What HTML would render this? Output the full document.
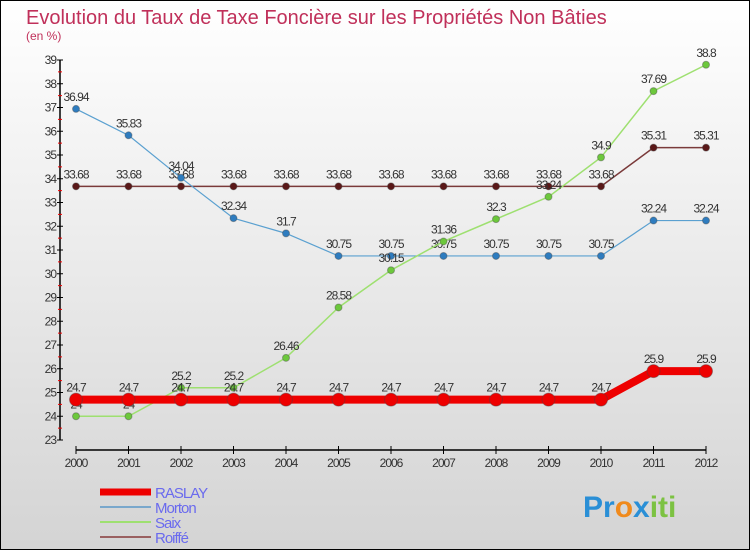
<!DOCTYPE html>
<html><head><meta charset="utf-8"><style>
body{margin:0;width:750px;height:550px;overflow:hidden;font-family:"Liberation Sans",sans-serif}
#wrap{position:absolute;left:0;top:0;width:748px;height:548px;border:1px solid #000;background:linear-gradient(#fff,#d4d4d4)}
</style></head><body>
<div id="wrap">
<svg width="750" height="550" style="position:absolute;left:-1px;top:-1px" id="svg">
<text x="26" y="24" font-size="20" fill="#c0305a">Evolution du Taux de Taxe Foncière sur les Propriétés Non Bâties</text>
<text x="26" y="40" font-size="12" fill="#c0305a">(en %)</text>
<g id="axes"></g><g id="series"></g><g id="legend"></g>
<text x="583" y="517" font-size="30" font-weight="bold"><tspan fill="#2a8fd6">Pr</tspan><tspan fill="#f08a1c">o</tspan><tspan fill="#2a8fd6">x</tspan><tspan fill="#7cc242">iti</tspan></text>
</svg></div>
<script>
const years=[2000,2001,2002,2003,2004,2005,2006,2007,2008,2009,2010,2011,2012];
const yTicks=[23,24,25,26,27,28,29,30,31,32,33,34,35,36,37,38,39];
const raslay=[24.7,24.7,24.7,24.7,24.7,24.7,24.7,24.7,24.7,24.7,24.7,25.9,25.9];
const morton=[36.94,35.83,34.04,32.34,31.7,30.75,30.75,30.75,30.75,30.75,30.75,32.24,32.24];
const saix=[24,24,25.2,25.2,26.46,28.58,30.15,31.36,32.3,33.24,34.9,37.69,38.8];
const roiffe=[33.68,33.68,33.68,33.68,33.68,33.68,33.68,33.68,33.68,33.68,33.68,35.31,35.31];
const seriesNames=['RASLAY','Morton','Saix','Roiffé'];
const NS='http://www.w3.org/2000/svg';
const X=i=>76+i*52.5, Y=v=>440-(v-23)*23.75;
function mk(t,a,p){const e=document.createElementNS(NS,t);for(const k in a)e.setAttribute(k,a[k]);p.appendChild(e);return e;}
const ax=document.getElementById('axes');
let l=mk('line',{x1:60,y1:60,x2:60,y2:440,stroke:'#000','stroke-width':1.5},ax);


l=mk('line',{x1:76,y1:450,x2:706,y2:450,stroke:'#000','stroke-width':1.5},ax);


yTicks.forEach(v=>{
 mk('line',{x1:57,x2:63,y1:Y(v),y2:Y(v),stroke:'#000'},ax);
 if(v<39)mk('line',{x1:58,x2:62,y1:Y(v+0.5),y2:Y(v+0.5),stroke:'#e00'},ax);
 const t=mk('text',{x:56,y:Y(v)+4,'font-size':12,'text-anchor':'end',fill:'#333','letter-spacing':'-1'},ax);
 t.textContent=v;
 
 
});
years.forEach((y,i)=>{
 mk('line',{x1:X(i),x2:X(i),y1:446,y2:454,stroke:'#000'},ax);
 const t=mk('text',{x:X(i),y:467,'font-size':12,'text-anchor':'middle',fill:'#333','letter-spacing':'-1'},ax);
 t.textContent=y;
 
 
});
const sg=document.getElementById('series');
const defs=[[roiffe,'#7a3a3a','#5a1818',1.5,3.5,'roiffe'],[morton,'#5aa0d0','#2e7cbf',1.2,3.5,'morton'],[saix,'#9ee070','#6cc83c',1.5,3.5,'saix'],[raslay,'#ee0000','#ee0000',8,6.5,'raslay']];
defs.forEach(([d,c,mc,w,r,n])=>{
 const p=mk('polyline',{points:d.map((v,i)=>X(i)+','+Y(v)).join(' '),fill:'none',stroke:c,'stroke-width':w},sg);
 
 
 d.forEach((v,i)=>{
  const c2=mk('circle',{cx:X(i),cy:Y(v),r:r,fill:mc,stroke:'#444','stroke-opacity':0.4},sg);
  
  
  const t=mk('text',{x:X(i),y:Y(v)-8,'font-size':12,'text-anchor':'middle',fill:'#333','letter-spacing':'-1'},sg);
  t.textContent=String(v).replace('.','.');
  
  
 });
});
const lg=document.getElementById('legend');
const lc=['#ee0000','#7aa8cc','#9ee070','#9a6060'],lw=[7,2,2,2];
seriesNames.forEach((n,i)=>{
 const y=492+i*15;
 mk('line',{x1:100,x2:151,y1:y,y2:y,stroke:lc[i],'stroke-width':lw[i]},lg);
 const t=mk('text',{x:155,y:y+6,'font-size':15,fill:'#6a6aee','letter-spacing':'-1'},lg);
 t.textContent=n;
 
 
});
</script>
</body></html>
